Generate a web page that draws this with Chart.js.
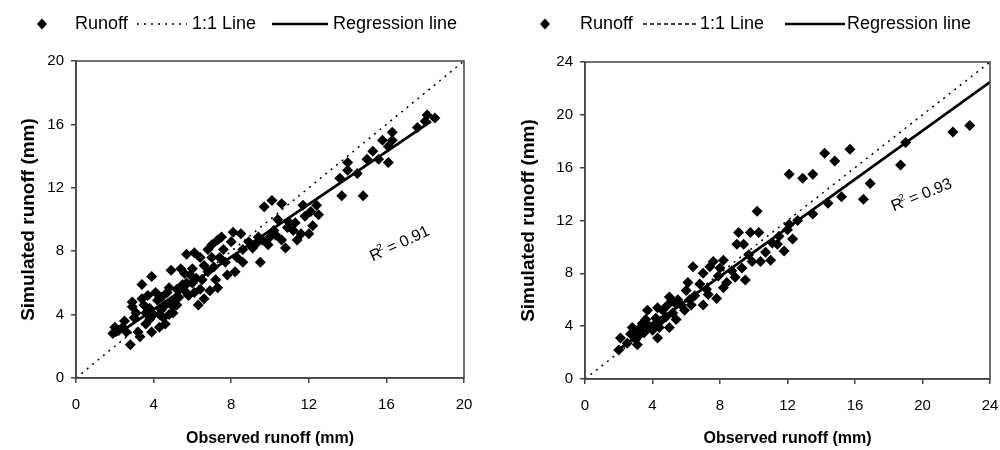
<!DOCTYPE html>
<html>
<head>
<meta charset="utf-8">
<script src="https://cdn.jsdelivr.net/npm/chart.js@4.4.1/dist/chart.umd.min.js"></script>
<style>
  html, body { margin: 0; padding: 0; background: #fff; }
  #wrap { position: relative; width: 1000px; height: 450px; }
  .panel { position: absolute; top: 0; width: 500px; height: 450px; }
</style>
</head>
<body>
<div id="wrap">
  <div class="panel" style="left:0"><canvas id="left-chart"></canvas></div>
  <div class="panel" style="left:500px"><canvas id="right-chart"></canvas></div>
</div>
<script>
// left panel: observed vs simulated runoff (mm)
const obsLeft = [1.9, 2.2, 2.4, 2.0, 2.8, 3.3, 3.2, 3.9, 4.3, 4.6, 3.8, 4.3, 4.8, 4.4, 5.0, 5.2, 4.9, 2.9, 2.9, 3.4,
  3.7, 4.1, 3.9, 3.4, 4.2, 4.4, 4.7, 4.8, 5.2, 5.5, 5.7, 5.8, 6.1, 6.3, 6.6, 7.3, 4.9, 5.4, 5.6, 6.0,
  5.7, 6.1, 6.4, 6.8, 7.0, 7.3, 7.5, 7.7, 7.8, 8.6, 9.5, 8.6, 9.3, 9.6, 8.1, 8.5, 4.0, 3.8, 2.5, 3.0,
  3.5, 5.3, 6.5, 6.8, 7.1, 7.4, 6.2, 10.1, 10.6, 9.7, 11.6, 11.2, 10.9, 10.0, 10.3, 10.6, 11.4, 12.0, 12.2, 10.4,
  9.9, 11.7, 12.4, 12.5, 11.8, 11.3, 13.6, 13.7, 14.8, 14.0, 14.0, 14.5, 15.3, 15.0, 15.6, 16.1, 16.3, 15.8, 16.3, 16.1,
  17.6, 18.0, 18.1, 18.5,
  3.1, 3.6, 4.6, 5.1, 5.6, 6.0, 6.6, 7.0, 7.6, 8.0, 6.9, 7.2, 8.3, 8.9, 9.1, 10.2, 10.8, 11.0, 5.0, 5.9,
  6.4, 2.6, 3.6, 4.5, 8.2, 9.4, 12.1];
const simLeft = [2.8, 3.0, 3.2, 3.2, 2.1, 2.6, 2.9, 2.9, 3.2, 3.4, 3.7, 4.0, 4.0, 4.3, 4.5, 4.6, 4.8, 4.5, 4.8, 5.0,
  5.2, 5.4, 6.4, 5.9, 4.9, 5.1, 5.4, 5.7, 5.6, 5.9, 6.0, 5.2, 5.4, 4.6, 5.0, 5.7, 6.8, 6.9, 6.6, 6.9,
  7.8, 7.9, 7.6, 8.1, 8.4, 8.7, 8.9, 7.3, 6.5, 7.3, 7.3, 8.1, 8.5, 8.7, 9.2, 9.1, 4.0, 4.4, 3.6, 3.8,
  4.6, 5.1, 6.2, 6.7, 7.0, 7.6, 6.3, 11.2, 11.0, 10.8, 9.1, 9.3, 9.5, 8.9, 9.0, 8.7, 8.7, 9.1, 9.6, 10.0,
  8.4, 10.9, 10.9, 10.3, 10.2, 9.8, 12.6, 11.5, 11.5, 13.6, 13.1, 12.9, 14.3, 13.8, 13.8, 13.6, 15.5, 15.0, 15.0, 14.6,
  15.8, 16.2, 16.6, 16.4,
  4.1, 3.4, 4.6, 5.0, 5.5, 6.0, 7.1, 7.6, 8.1, 8.6, 5.5, 6.2, 7.6, 8.6, 8.2, 9.3, 8.2, 9.8, 4.1, 6.5,
  5.6, 2.9, 4.1, 3.8, 6.7, 8.9, 10.5];

// right panel
const obsRight = [2.0, 2.1, 2.5, 3.1, 3.1, 2.8, 3.4, 3.7, 4.3, 4.6, 4.3, 5.0, 5.0, 5.5, 5.9, 6.0, 6.1, 6.4, 7.0, 7.4,
  7.6, 8.2, 7.0, 7.3, 7.8, 8.2, 8.4, 8.9, 9.5, 9.3, 9.0, 9.4, 9.9, 10.4, 11.0, 9.1, 9.8, 10.3, 11.1, 11.4,
  10.2, 12.0, 12.1, 12.6, 13.5, 14.4, 15.2, 12.1, 12.9, 13.5, 14.2, 14.8, 15.7, 16.5, 16.9, 18.7, 19.0, 21.8, 22.8, 3.5,
  3.8, 4.0, 4.5, 3.2, 2.7, 5.4, 5.7, 6.5, 6.8, 4.8, 4.2, 8.7, 7.9, 11.8, 11.5, 12.3, 3.6, 4.1, 5.2, 6.2,
  3.0, 3.3, 4.4, 4.9, 5.3, 6.3, 7.2, 8.0, 9.7, 10.7];
const simRight = [2.2, 3.1, 2.7, 2.6, 3.7, 3.9, 4.2, 5.2, 5.4, 5.2, 3.1, 3.9, 6.2, 6.0, 5.2, 6.7, 7.3, 8.5, 8.0, 8.5,
  8.9, 9.0, 5.6, 6.4, 6.1, 6.9, 7.3, 7.7, 7.5, 8.4, 10.2, 10.2, 8.9, 8.9, 9.0, 11.1, 11.1, 11.1, 10.3, 10.2,
  12.7, 11.3, 11.7, 12.0, 12.5, 13.3, 13.8, 15.5, 15.2, 15.5, 17.1, 16.5, 17.4, 13.6, 14.8, 16.2, 17.9, 18.7, 19.2, 3.5,
  4.0, 3.7, 4.4, 3.3, 3.4, 4.5, 5.6, 6.3, 7.2, 4.7, 4.6, 8.2, 7.8, 9.7, 10.8, 10.6, 4.5, 4.1, 5.0, 6.0,
  3.0, 3.9, 3.9, 5.6, 5.8, 5.6, 6.8, 8.4, 9.4, 9.6];

// trendlines: [slope, intercept], [xStart, xEnd]
const fitLeft = [0.83, 1.0];
const fitLeftRange = [2.0, 18.3];
const fitRight = [0.92, 0.4];
const fitRightRange = [2.0, 24];
const r2Left = '0.91';
const r2Right = '0.93';

const xTicksLeft = [0, 4, 8, 12, 16, 20];
const xTicksRight = [0, 4, 8, 12, 16, 20, 24];

Chart.defaults.font.family = "Arial, 'Liberation Sans', sans-serif";
Chart.defaults.color = '#000';

function toPoints(xs, ys) {
  return xs.map((x, i) => ({ x, y: ys[i] }));
}

function fitPoints(fit, range) {
  return range.map(x => ({ x, y: fit[0] * x + fit[1] }));
}

// frame, legend and R² label
const decorPlugin = {
  id: 'decor',
  afterDatasetsDraw(chart, args, o) {
    const { ctx, chartArea: a } = chart;
    ctx.save();
    ctx.strokeStyle = '#444';
    ctx.lineWidth = 1.5;
    ctx.strokeRect(a.left, a.top, a.right - a.left, a.bottom - a.top);

    // legend
    const ly = o.legendY;
    ctx.fillStyle = '#000';
    ctx.beginPath();
    ctx.moveTo(o.marker, ly - 5.5);
    ctx.lineTo(o.marker + 5, ly);
    ctx.lineTo(o.marker, ly + 5.5);
    ctx.lineTo(o.marker - 5, ly);
    ctx.closePath();
    ctx.fill();

    ctx.strokeStyle = '#000';
    ctx.lineWidth = 1.5;
    ctx.setLineDash(o.legendDash);
    ctx.beginPath();
    ctx.moveTo(o.dashLine[0], ly);
    ctx.lineTo(o.dashLine[1], ly);
    ctx.stroke();
    ctx.setLineDash([]);
    ctx.lineWidth = 2.5;
    ctx.beginPath();
    ctx.moveTo(o.solidLine[0], ly);
    ctx.lineTo(o.solidLine[1], ly);
    ctx.stroke();

    ctx.font = '18px Arial, "Liberation Sans", sans-serif';
    ctx.textBaseline = 'middle';
    ctx.textAlign = 'left';
    ctx.fillText('Runoff', o.text[0], ly);
    ctx.fillText('1:1 Line', o.text[1], ly);
    ctx.fillText('Regression line', o.text[2], ly);

    // R² label
    const px = chart.scales.x.getPixelForValue(o.r2At[0]);
    const py = chart.scales.y.getPixelForValue(o.r2At[1]);
    ctx.translate(px, py);
    ctx.rotate(o.r2Angle * Math.PI / 180);
    ctx.font = '16px Arial, "Liberation Sans", sans-serif';
    ctx.fillText('R', 0, 0);
    const wR = ctx.measureText('R').width;
    ctx.font = '10px Arial, "Liberation Sans", sans-serif';
    ctx.fillText('2', wR - 2, -5);
    ctx.font = '16px Arial, "Liberation Sans", sans-serif';
    ctx.fillText(' = ' + o.r2Text, wR + 3, 0);
    ctx.restore();
  }
};

function makeChart(id, cfg) {
  const tickFont = { size: 15 };
  return new Chart(document.getElementById(id), {
    type: 'scatter',
    data: {
      datasets: [
        {
          label: 'Runoff',
          data: toPoints(cfg.obs, cfg.sim),
          pointStyle: 'rectRot',
          pointRadius: 5.5,
          backgroundColor: '#000',
          borderColor: '#000',
          borderWidth: 0,
          order: 3
        },
        {
          type: 'line',
          label: '1:1 Line',
          data: [{ x: 0, y: 0 }, { x: cfg.max, y: cfg.max }],
          borderColor: '#000',
          borderWidth: 1.5,
          borderDash: cfg.dash,
          pointRadius: 0,
          order: 2
        },
        {
          type: 'line',
          label: 'Regression line',
          data: fitPoints(cfg.fit, cfg.range),
          borderColor: '#000',
          borderWidth: 2.8,
          pointRadius: 0,
          order: 1
        }
      ]
    },
    options: {
      responsive: true,
      maintainAspectRatio: false,
      animation: false,
      layout: { padding: { top: cfg.top, right: cfg.right, left: 0, bottom: 0 } },
      plugins: {
        legend: { display: false },
        tooltip: { enabled: false },
        decor: cfg.decor
      },
      scales: {
        x: {
          type: 'linear',
          min: 0,
          max: cfg.max,
          afterBuildTicks: s => { s.ticks = cfg.ticks.map(v => ({ value: v })); },
          ticks: { font: tickFont, color: '#000', padding: 13, maxRotation: 0 },
          grid: { drawOnChartArea: false, tickLength: 5, color: '#444', lineWidth: 1.5 },
          border: { color: '#444', width: 1.5 },
          title: { display: true, text: 'Observed runoff (mm)', font: { size: 16, weight: 'bold' }, color: '#000', padding: { top: 0, bottom: 2 } },
          afterFit: s => { s.height = cfg.xHeight; s.paddingLeft = 0; s.paddingRight = 0; }
        },
        y: {
          type: 'linear',
          min: 0,
          max: cfg.max,
          afterBuildTicks: s => { s.ticks = cfg.ticks.map(v => ({ value: v })); },
          ticks: { font: tickFont, color: '#000', padding: 7 },
          grid: { drawOnChartArea: false, tickLength: 5, color: '#444', lineWidth: 1.5 },
          border: { color: '#444', width: 1.5 },
          title: { display: true, text: 'Simulated runoff (mm)', font: { size: 19, weight: 'bold' }, color: '#000', padding: { top: 17, bottom: 0 } },
          afterFit: s => { s.width = cfg.yWidth; s.paddingTop = 0; s.paddingBottom = 0; }
        }
      }
    },
    plugins: [decorPlugin]
  });
}

makeChart('left-chart', {
  obs: obsLeft, sim: simLeft, fit: fitLeft, range: fitLeftRange, max: 20, ticks: xTicksLeft,
  dash: [2, 5], top: 61, right: 36, xHeight: 72, yWidth: 76,
  decor: {
    legendY: 24, marker: 42, legendDash: [2, 5], dashLine: [137, 187], solidLine: [272, 328],
    text: [75, 192, 333], r2At: [15.2, 7.6], r2Angle: -25, r2Text: r2Left
  }
});

makeChart('right-chart', {
  obs: obsRight, sim: simRight, fit: fitRight, range: fitRightRange, max: 24, ticks: xTicksRight,
  dash: [2, 5], top: 62, right: 10, xHeight: 71, yWidth: 85,
  decor: {
    legendY: 24, marker: 45, legendDash: [4, 3], dashLine: [143, 196], solidLine: [285, 345],
    text: [80, 200, 347], r2At: [18.2, 13.0], r2Angle: -22, r2Text: r2Right
  }
});
</script>
</body>
</html>
